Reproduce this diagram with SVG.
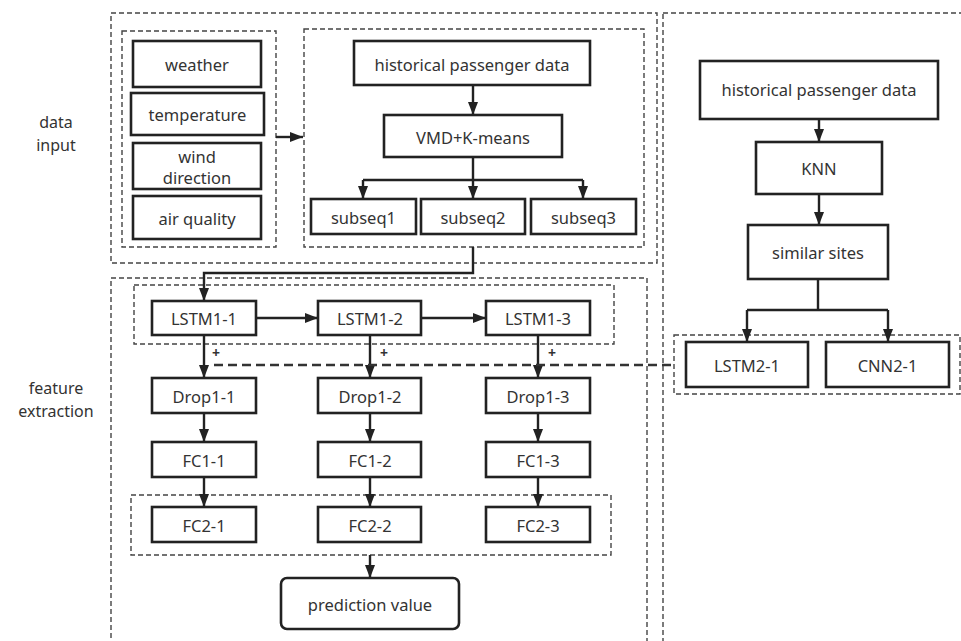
<svg xmlns="http://www.w3.org/2000/svg" width="961" height="641" viewBox="0 0 961 641">
<defs>
<marker id="ah" markerUnits="userSpaceOnUse" markerWidth="13" markerHeight="11" refX="13" refY="5.5" orient="auto">
<path d="M0,0.5 L13,5.5 L0,10.5 z" fill="#222"/>
</marker>
<style>
.box{fill:#fff;stroke:#222;stroke-width:2.6}
.dash{fill:none;stroke:#444;stroke-width:1.4;stroke-dasharray:5,3}
.t{font-family:"Noto Sans","Open Sans",sans-serif;font-size:16.5px;fill:#333;text-anchor:middle;dominant-baseline:central}
.lbl{font-family:"Noto Sans","Open Sans",sans-serif;font-size:16px;fill:#333;text-anchor:middle}
.c{fill:none;stroke:#222;stroke-width:2.4}
.a{fill:none;stroke:#222;stroke-width:2.4;marker-end:url(#ah)}
.plus{font-family:"Noto Sans",sans-serif;font-size:14px;fill:#333;text-anchor:middle;font-weight:bold}
</style>
</defs>
<rect width="961" height="641" fill="#fff"/>

<g id="labels">
<text class="lbl" x="56" y="128">data</text>
<text class="lbl" x="56" y="151">input</text>
<text class="lbl" x="56" y="394">feature</text>
<text class="lbl" x="56" y="417">extraction</text>
</g>

<g id="groups">
<rect class="dash" x="111" y="13" width="546" height="250"/>
<rect class="dash" x="122" y="31" width="154" height="216"/>
<rect class="dash" x="304" y="29" width="340" height="218"/>
<rect class="dash" x="111" y="278" width="536" height="380"/>
<rect class="dash" x="134" y="285" width="480" height="59"/>
<rect class="dash" x="131" y="495" width="480" height="60"/>
<rect class="dash" x="663" y="13" width="310" height="645"/>
<rect class="dash" x="674" y="335" width="286" height="59"/>
</g>

<g id="connectors">
<path class="a" d="M276,137 H303"/>
<path class="a" d="M473,85 V115"/>
<path class="c" d="M473,157 V180 M363,180 H583"/>
<path class="a" d="M363,180 V199"/>
<path class="a" d="M473,180 V199"/>
<path class="a" d="M583,180 V199"/>
<path class="a" d="M473,247 V273 H204 V301"/>
<path class="a" d="M256,318 H318"/>
<path class="a" d="M421,318 H486"/>
<path class="a" d="M204,335 V378"/>
<path class="a" d="M370,335 V378"/>
<path class="a" d="M538,335 V378"/>
<path class="a" d="M204,413 V442"/>
<path class="a" d="M370,413 V442"/>
<path class="a" d="M538,413 V442"/>
<path class="a" d="M204,477 V507"/>
<path class="a" d="M370,477 V507"/>
<path class="a" d="M538,477 V507"/>
<path class="a" d="M370,555 V578"/>
<path class="a" d="M819,120 V142"/>
<path class="a" d="M819,195 V225"/>
<path class="c" d="M818,279 V310 M747,310 H888"/>
<path class="a" d="M747,310 V342"/>
<path class="a" d="M888,310 V342"/>
<path d="M214,365 H674" fill="none" stroke="#333" stroke-width="2.4" stroke-dasharray="9,5"/>
<text class="plus" x="216" y="358">+</text>
<text class="plus" x="384" y="358">+</text>
<text class="plus" x="552" y="358">+</text>
</g>

<g id="weather"><rect class="box" x="133" y="41" width="128" height="46"/><text class="t" x="197" y="64">weather</text></g>
<g id="temperature"><rect class="box" x="131" y="93" width="133" height="42"/><text class="t" x="197.5" y="114">temperature</text></g>
<g id="wind"><rect class="box" x="133" y="143" width="128" height="46"/><text class="t" x="197" y="156">wind</text><text class="t" x="197" y="177">direction</text></g>
<g id="air"><rect class="box" x="133" y="196" width="128" height="43"/><text class="t" x="197" y="218">air quality</text></g>

<g id="hist1"><rect class="box" x="354" y="41" width="236" height="44"/><text class="t" x="472" y="64">historical passenger data</text></g>
<g id="vmd"><rect class="box" x="384" y="115" width="178" height="42"/><text class="t" x="473" y="137">VMD+K-means</text></g>
<g id="subseq1"><rect class="box" x="311" y="199" width="105" height="35"/><text class="t" x="363.5" y="217">subseq1</text></g>
<g id="subseq2"><rect class="box" x="421" y="199" width="104" height="35"/><text class="t" x="473" y="217">subseq2</text></g>
<g id="subseq3"><rect class="box" x="531" y="199" width="105" height="35"/><text class="t" x="583.5" y="217">subseq3</text></g>

<g id="lstm11"><rect class="box" x="152" y="301" width="104" height="34"/><text class="t" x="204" y="318">LSTM1-1</text></g>
<g id="lstm12"><rect class="box" x="318" y="301" width="103" height="34"/><text class="t" x="370" y="318">LSTM1-2</text></g>
<g id="lstm13"><rect class="box" x="486" y="301" width="104" height="34"/><text class="t" x="538" y="318">LSTM1-3</text></g>

<g id="drop11"><rect class="box" x="152" y="378" width="104" height="35"/><text class="t" x="204" y="396">Drop1-1</text></g>
<g id="drop12"><rect class="box" x="318" y="378" width="103" height="35"/><text class="t" x="370" y="396">Drop1-2</text></g>
<g id="drop13"><rect class="box" x="486" y="378" width="104" height="35"/><text class="t" x="538" y="396">Drop1-3</text></g>

<g id="fc11"><rect class="box" x="152" y="442" width="104" height="35"/><text class="t" x="204" y="460">FC1-1</text></g>
<g id="fc12"><rect class="box" x="318" y="442" width="103" height="35"/><text class="t" x="370" y="460">FC1-2</text></g>
<g id="fc13"><rect class="box" x="486" y="442" width="104" height="35"/><text class="t" x="538" y="460">FC1-3</text></g>

<g id="fc21"><rect class="box" x="152" y="507" width="104" height="35"/><text class="t" x="204" y="525">FC2-1</text></g>
<g id="fc22"><rect class="box" x="318" y="507" width="103" height="35"/><text class="t" x="370" y="525">FC2-2</text></g>
<g id="fc23"><rect class="box" x="486" y="507" width="104" height="35"/><text class="t" x="538" y="525">FC2-3</text></g>

<g id="prediction"><rect class="box" x="281" y="578" width="178" height="51" rx="6"/><text class="t" x="370" y="604">prediction value</text></g>

<g id="hist2"><rect class="box" x="700" y="61" width="238" height="58"/><text class="t" x="819" y="89">historical passenger data</text></g>
<g id="knn"><rect class="box" x="756" y="142" width="126" height="52"/><text class="t" x="819" y="168">KNN</text></g>
<g id="similar"><rect class="box" x="748" y="225" width="140" height="54"/><text class="t" x="818" y="252">similar sites</text></g>
<g id="lstm21"><rect class="box" x="686" y="342" width="122" height="45"/><text class="t" x="747" y="365">LSTM2-1</text></g>
<g id="cnn21"><rect class="box" x="826" y="342" width="123" height="45"/><text class="t" x="887.5" y="365">CNN2-1</text></g>
</svg>
